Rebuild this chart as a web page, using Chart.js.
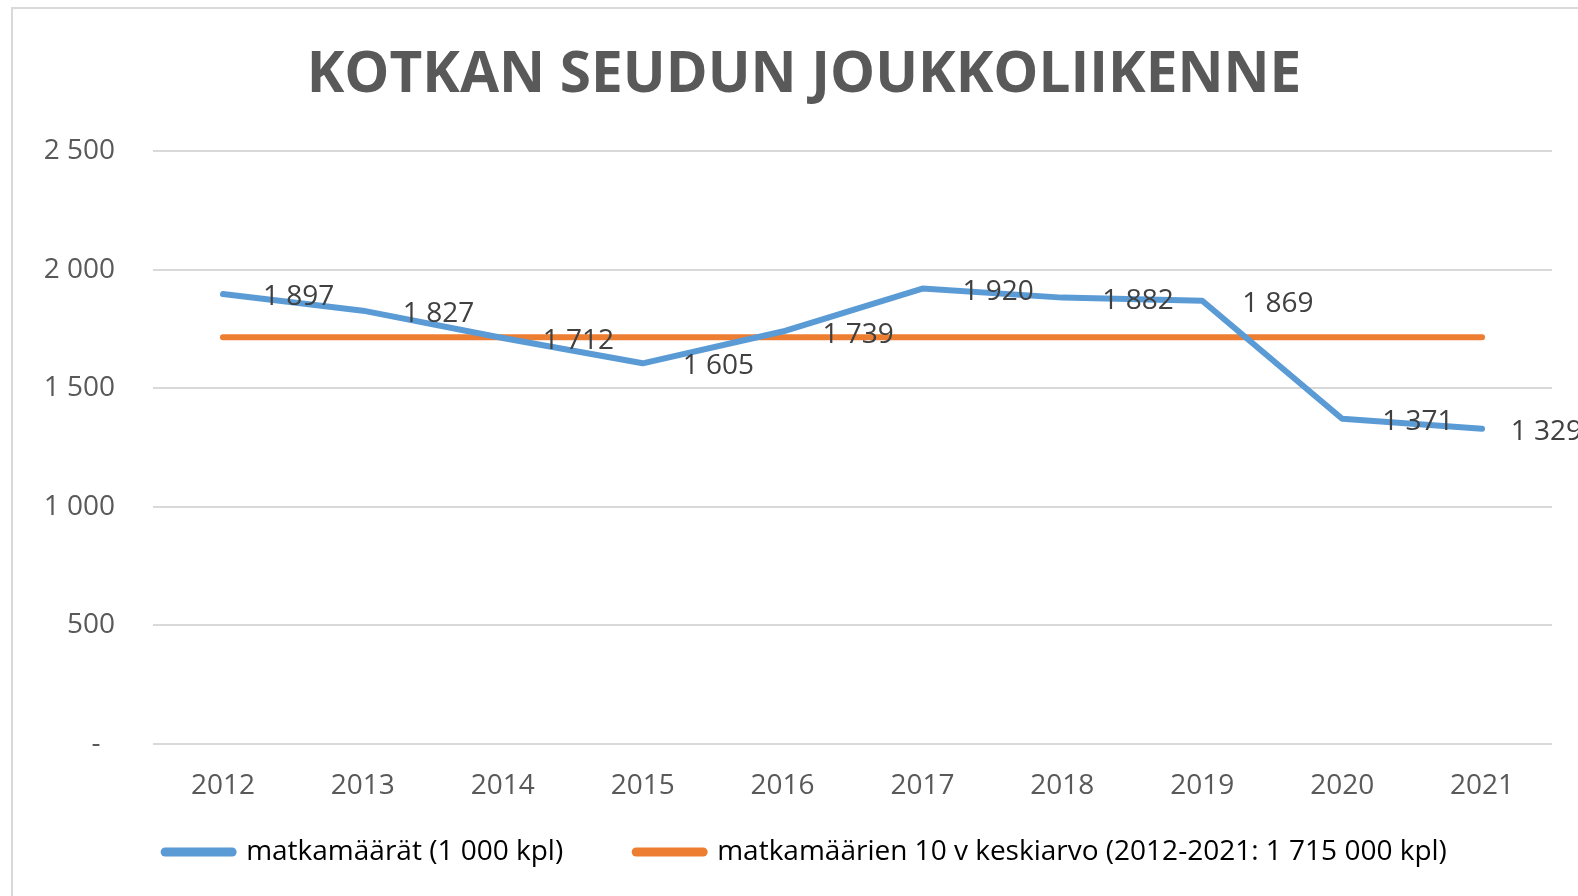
<!DOCTYPE html>
<html>
<head>
<meta charset="utf-8">
<script src="https://cdn.jsdelivr.net/npm/chart.js@4/dist/chart.umd.min.js"></script>
<style>
  html, body { margin: 0; padding: 0; background: #fff; overflow: hidden; }
  #wrap { position: relative; width: 1578px; height: 896px; }
  #frame { position: absolute; left: 11px; top: 7px; width: 1700px; height: 1000px; border: 2px solid #d9d9d9; }
  #chart { position: absolute; left: 0; top: 0; }
</style>
</head>
<body>
<div id="wrap">
  <div id="frame"></div>
  <canvas id="chart" width="1578" height="896"></canvas>
</div>
<script>
  const years = ['2012', '2013', '2014', '2015', '2016', '2017', '2018', '2019', '2020', '2021'];
  const trips = [1897, 1827, 1712, 1605, 1739, 1920, 1882, 1869, 1371, 1329];
  const average = [1715, 1715, 1715, 1715, 1715, 1715, 1715, 1715, 1715, 1715];
  const seriesNames = ['matkamäärät (1 000 kpl)', 'matkamäärien 10 v keskiarvo (2012-2021: 1 715 000 kpl)'];
  const yTicks = [0, 500, 1000, 1500, 2000, 2500];

  // tuhaterotin välilyönnillä
  function fmt(v) {
    return String(v).replace(/\B(?=(\d{3})+(?!\d))/g, ' ');
  }

  Chart.defaults.font.family = "'Open Sans', sans-serif";
  Chart.defaults.color = '#595959';

  const valueLabels = {
    id: 'valueLabels',
    afterDatasetsDraw(chart) {
      const meta = chart.getDatasetMeta(0);
      const ctx = chart.ctx;
      ctx.save();
      ctx.font = "28px 'Open Sans', sans-serif";
      ctx.fillStyle = '#404040';
      ctx.textAlign = 'left';
      ctx.textBaseline = 'middle';
      meta.data.forEach((pt, i) => {
        const txt = fmt(trips[i]);
        const w = ctx.measureText(txt).width;
        const x = Math.min(pt.x + 40, chart.width - w + 4);
        ctx.fillText(txt, x, pt.y + 3);
      });
      ctx.restore();
    }
  };

  // otsikko ja selite hieman oikealle, selite ylemmäs kuten Excelissä
  const boxShift = {
    id: 'boxShift',
    afterLayout(chart) {
      const lg = chart.legend;
      lg.left += 30;
      lg.right += 30;
      lg.top = 765;
      lg.bottom = 896;
      lg.height = lg.bottom - lg.top;
      const t = chart.titleBlock;
      t.left += 28;
      t.right += 28;
    }
  };

  new Chart(document.getElementById('chart'), {
    type: 'line',
    data: {
      labels: years,
      datasets: [{
        label: seriesNames[0],
        data: trips,
        borderColor: '#5B9BD5',
        backgroundColor: '#5B9BD5',
        borderWidth: 6,
        borderCapStyle: 'round',
        borderJoinStyle: 'round',
        pointRadius: 0,
        tension: 0
      }, {
        label: seriesNames[1],
        data: average,
        borderColor: '#ED7D31',
        backgroundColor: '#ED7D31',
        borderWidth: 6,
        borderCapStyle: 'round',
        pointRadius: 0,
        tension: 0
      }]
    },
    options: {
      responsive: false,
      animation: false,
      layout: { padding: { top: 0, right: 26, bottom: 0, left: 0 } },
      plugins: {
        title: {
          display: true,
          text: 'KOTKAN SEUDUN JOUKKOLIIKENNE',
          color: '#595959',
          font: { size: 56.7, weight: 'bold', lineHeight: 1.2 },
          padding: { top: 42, bottom: 41 }
        },
        legend: {
          position: 'bottom',
          maxHeight: 92,
          labels: {
            usePointStyle: true,
            pointStyleWidth: 67,
            boxHeight: 10,
            padding: 73,
            color: '#595959',
            font: { size: 28 },
            generateLabels(chart) {
              return chart.data.datasets.map((ds, i) => ({
                text: ds.label,
                fillStyle: ds.borderColor,
                strokeStyle: ds.borderColor,
                lineWidth: 9,
                lineCap: 'round',
                pointStyle: 'line',
                datasetIndex: i,
                hidden: false
              }));
            }
          }
        },
        tooltip: { enabled: false }
      },
      scales: {
        x: {
          offset: true,
          afterFit(scale) { scale.height = 60; },
          grid: { display: false },
          border: { display: false },
          ticks: { padding: 17, color: '#595959', font: { size: 28 } }
        },
        y: {
          min: 0,
          max: 2500,
          afterBuildTicks(scale) {
            scale.ticks = yTicks.map(v => ({ value: v }));
          },
          afterFit(scale) { scale.width = 153; },
          grid: { color: '#d9d9d9', lineWidth: 2, drawTicks: false },
          border: { display: false },
          ticks: {
            padding: 38,
            color: '#595959',
            font: { size: 28 },
            callback: v => v === 0 ? '-  ' : fmt(v)
          }
        }
      }
    },
    plugins: [valueLabels, boxShift]
  });
</script>
</body>
</html>
